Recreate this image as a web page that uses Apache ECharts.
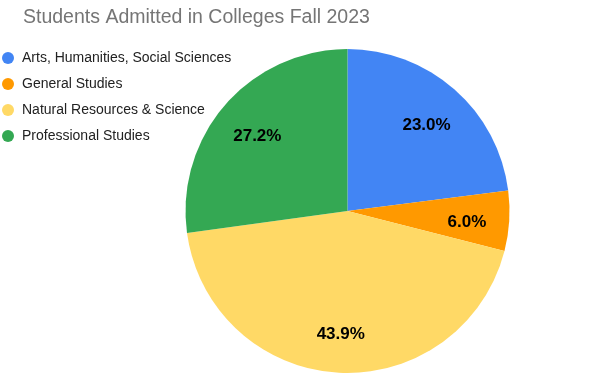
<!DOCTYPE html>
<html>
<head>
<meta charset="utf-8">
<script src="https://cdn.jsdelivr.net/npm/echarts@6/dist/echarts.min.js"></script>
<style>html,body{margin:0;padding:0;background:#fff}#c{width:593px;height:392px}</style>
</head>
<body>
<div id="c"></div>
<script>
const titleText = 'Students Admitted in Colleges Fall 2023';
const categories = ['Arts, Humanities, Social Sciences', 'General Studies', 'Natural Resources & Science', 'Professional Studies'];
const values = [23.0, 6.0, 43.9, 27.2];
const colors = ['#4285F4', '#FF9900', '#FFD966', '#34A853'];

const data = categories.map((n, i) => ({name: n, value: values[i]}));
const chart = echarts.init(document.getElementById('c'), null, {renderer: 'canvas'});
const R = 162;
chart.setOption({
  animation: false,
  backgroundColor: '#ffffff',
  color: colors,
  title: {
    text: titleText, left: 18, top: 3,
    textStyle: {fontFamily: 'Liberation Sans, Arial', fontSize: 19.5, fontWeight: 'normal', color: '#757575'}
  },
  legend: {
    orient: 'vertical', left: -3, top: 45,
    icon: 'circle', itemWidth: 12, itemHeight: 12, itemGap: 10,
    data: categories,
    textStyle: {fontFamily: 'Liberation Sans, Arial', fontSize: 14, color: '#222222', lineHeight: 16, padding: [0, 0, 0, 3]}
  },
  series: [
    {
      type: 'pie', center: [347.5, 211], radius: [0, R], startAngle: 90, clockwise: true,
      data: data, label: {show: false}, labelLine: {show: false},
      itemStyle: {borderWidth: 0}, silent: true
    },
    {
      type: 'pie', center: [347.5, 211], radius: [R * 0.44, R], startAngle: 90, clockwise: true,
      data: data, itemStyle: {color: 'rgba(0,0,0,0)', borderWidth: 0}, silent: true,
      legendHoverLink: false,
      label: {
        show: true, position: 'inside', offset: [0, 4],
        formatter: p => p.percent.toFixed(1) + '%',
        fontFamily: 'Liberation Sans, Arial', fontSize: 17, fontWeight: 'bold', color: '#000000'
      },
      labelLine: {show: false}
    }
  ]
});
</script>
</body>
</html>
